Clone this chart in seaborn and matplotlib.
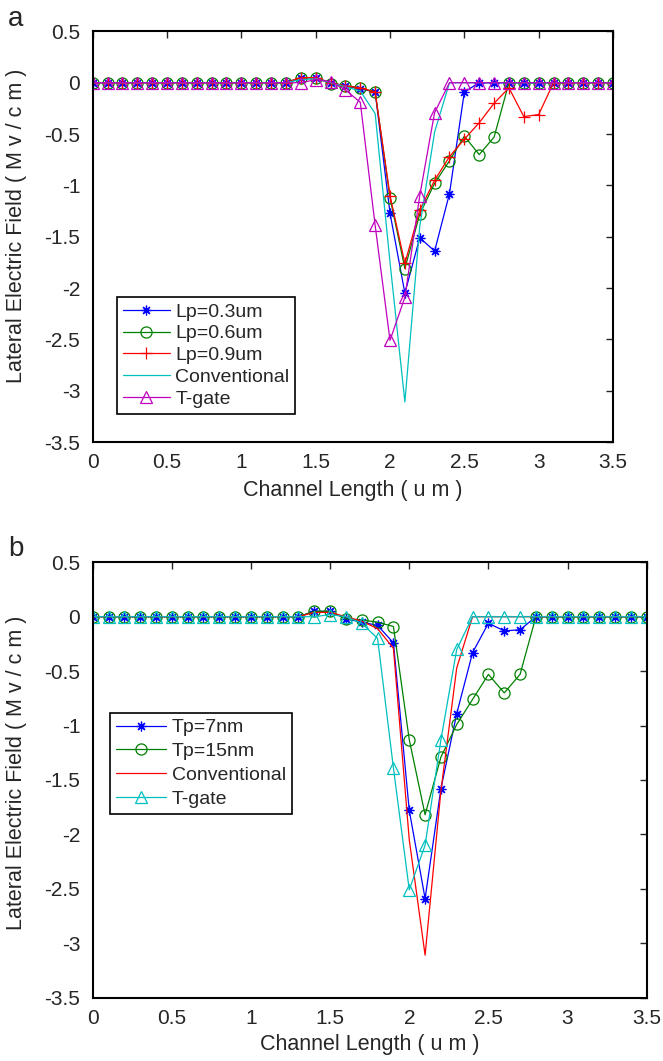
import matplotlib
matplotlib.use("Agg")
import matplotlib.pyplot as plt
import seaborn as sns
import pandas as pd

# channel positions (um)
x_um = [0.0, 0.1, 0.2, 0.3, 0.4, 0.5, 0.6, 0.7, 0.8, 0.9, 1.0, 1.1, 1.2, 1.3,
        1.4, 1.5, 1.6, 1.7, 1.8, 1.9, 2.0, 2.1, 2.2, 2.3, 2.4, 2.5, 2.6, 2.7,
        2.8, 2.9, 3.0, 3.1, 3.2, 3.3, 3.4, 3.5]

# panel a: lateral field (MV/cm) for different Lp
lp03 = [0]*14 + [0.05, 0.05, 0.0, -0.03, -0.06, -0.09, -1.27, -2.05, -1.51, -1.64,
                 -1.08, -0.09, 0, 0, 0, 0, 0, 0, 0, 0, 0, 0]
lp06 = [0]*14 + [0.05, 0.05, -0.01, -0.03, -0.05, -0.09, -1.12, -1.81, -1.28, -0.98,
                 -0.76, -0.52, -0.70, -0.53, 0, 0, 0, 0, 0, 0, 0, 0]
lp09 = [0]*14 + [0.05, 0.05, 0.0, -0.03, -0.05, -0.09, -1.10, -1.76, -1.24, -0.95,
                 -0.72, -0.55, -0.39, -0.20, -0.05, -0.33, -0.31, 0, 0, 0, 0, 0]
conv_a = [0]*14 + [0.03, 0.04, 0.0, -0.04, -0.08, -0.30, -1.75, -3.11, -1.40, -0.48,
                   0, 0, 0, 0, 0, 0, 0, 0, 0, 0, 0, 0]
tgate_a = [0]*14 + [0.0, 0.03, 0.01, -0.07, -0.19, -1.39, -2.51, -2.09, -1.10, -0.29,
                    0, 0, 0, 0, 0, 0, 0, 0, 0, 0, 0, 0]

# panel b: lateral field (MV/cm) for different Tp
tp7 = [0]*14 + [0.05, 0.05, -0.02, -0.05, -0.08, -0.24, -1.78, -2.59, -1.58, -0.89,
                -0.33, -0.06, -0.13, -0.12, 0, 0, 0, 0, 0, 0, 0, 0]
tp15 = [0]*14 + [0.05, 0.05, -0.02, -0.03, -0.05, -0.09, -1.13, -1.82, -1.29, -0.99,
                 -0.76, -0.53, -0.70, -0.53, 0, 0, 0, 0, 0, 0, 0, 0]
conv_b = [0]*14 + [0.04, 0.04, 0.0, -0.04, -0.11, -0.29, -2.05, -3.11, -1.60, -0.47,
                   0, 0, 0, 0, 0, 0, 0, 0, 0, 0, 0, 0]
tgate_b = [0]*14 + [0.0, 0.02, 0.0, -0.06, -0.20, -1.39, -2.51, -2.10, -1.13, -0.30,
                    0, 0, 0, 0, 0, 0, 0, 0, 0, 0, 0, 0]

sns.set_style("white")
plt.rcParams['font.family'] = ['Liberation Sans', 'DejaVu Sans']

ASTER = (8, 2, 0)

series_a = [
    (lp03, 'Lp=0.3um', 'b', ASTER, 7),
    (lp06, 'Lp=0.6um', 'g', 'o', 8),
    (lp09, 'Lp=0.9um', 'r', '+', 9),
    (conv_a, 'Conventional', 'c', None, 0),
    (tgate_a, 'T-gate', 'm', '^', 9),
]
series_b = [
    (tp7, 'Tp=7nm', 'b', ASTER, 7),
    (tp15, 'Tp=15nm', 'g', 'o', 8),
    (conv_b, 'Conventional', 'r', None, 0),
    (tgate_b, 'T-gate', 'c', '^', 9),
]


def draw_panel(ax, series, legend_anchor, handlelen, lspace, ylab_xy, xlab_y):
    for vals, name, col, mk, ms in series:
        df = pd.DataFrame({'x': x_um, 'E': vals})
        kw = dict(color=col, linewidth=0.9, label=name)
        if mk is not None:
            kw.update(marker=mk, markersize=ms, markerfacecolor='none',
                      markeredgecolor=col, markeredgewidth=0.9)
        sns.lineplot(data=df, x='x', y='E', ax=ax, **kw)
    ax.set_xlim(0, 3.5)
    ax.set_ylim(-3.5, 0.5)
    ax.set_xticks([0, 0.5, 1, 1.5, 2, 2.5, 3, 3.5])
    ax.set_xticklabels(['0', '0.5', '1', '1.5', '2', '2.5', '3', '3.5'])
    ax.set_yticks([-3.5, -3, -2.5, -2, -1.5, -1, -0.5, 0, 0.5])
    ax.set_yticklabels(['-3.5', '-3', '-2.5', '-2', '-1.5', '-1', '-0.5', '0', '0.5'])
    ax.tick_params(direction='in', top=True, right=True, length=5, width=1,
                   labelsize=15)
    ax.tick_params(axis='y', pad=9)
    ax.tick_params(axis='x', pad=8)
    for sp in ax.spines.values():
        sp.set_color('black')
        sp.set_linewidth(1.5)
    ax.set_xlabel('Channel Length ( u m )', fontsize=15.5)
    ax.set_ylabel('Lateral Electric Field ( M v / c m )', fontsize=15.5)
    ax.xaxis.set_label_coords(0.5, xlab_y)
    ax.yaxis.set_label_coords(*ylab_xy)
    leg = ax.legend(loc='upper left', bbox_to_anchor=legend_anchor, borderaxespad=0,
                    fontsize=14, fancybox=False, framealpha=1, edgecolor='black',
                    handlelength=handlelen, handletextpad=0.3, labelspacing=lspace,
                    borderpad=0.3)
    leg.get_frame().set_linewidth(1.2)


fig = plt.figure(figsize=(6.63, 10.61), dpi=100)
ax_a = fig.add_axes([0.1398, 0.5834, 0.7848, 0.3870])
ax_b = fig.add_axes([0.1398, 0.0598, 0.8356, 0.4102])

draw_panel(ax_a, series_a, (0.047, 0.353), 2.4, 0.22, (-0.126, 0.526), -0.092)
draw_panel(ax_b, series_b, (0.031, 0.654), 2.6, 0.32, (-0.119, 0.516), -0.083)

fig.text(0.012, 0.982, 'a', fontsize=20, va='center', ha='left')
fig.text(0.012, 0.483, 'b', fontsize=20, va='center', ha='left')

fig.savefig('out.png', dpi=100)
